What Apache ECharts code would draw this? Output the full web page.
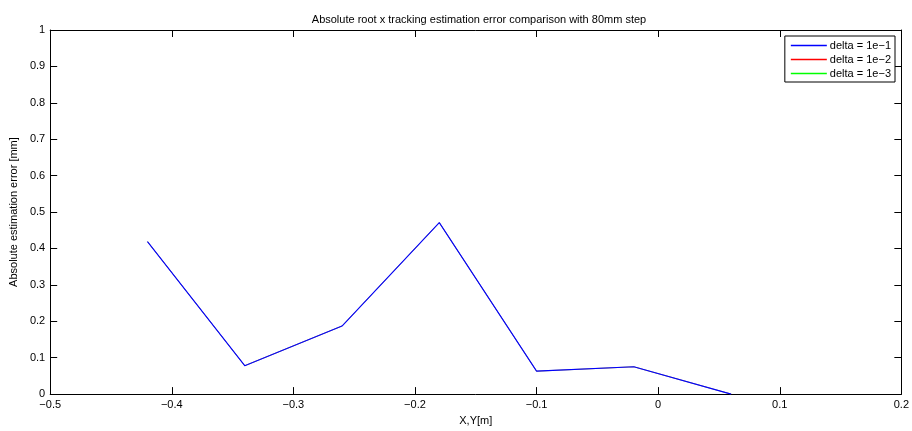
<!DOCTYPE html>
<html>
<head>
<meta charset="utf-8">
<script src="https://cdn.jsdelivr.net/npm/echarts@6/dist/echarts.min.js"></script>
<style>html,body{margin:0;padding:0;background:#fff}#c{width:912px;height:431px}</style>
</head>
<body>
<div id="c"></div>
<script>
var xValues = [-0.42, -0.34, -0.26, -0.18, -0.10, -0.02, 0.06];
var delta1 = [0.419, 0.078, 0.187, 0.471, 0.063, 0.075, 0.0];
var delta2 = [0.419, 0.078, 0.187, 0.471, 0.063, 0.075, 0.0];
var delta3 = [0.419, 0.078, 0.187, 0.471, 0.063, 0.075, 0.0];
var seriesNames = ['delta = 1e\u22121', 'delta = 1e\u22122', 'delta = 1e\u22123'];
var seriesColors = ['#0000ff', '#ff0000', '#00ff00'];

function pairs(ys){ return xValues.map(function(x,i){ return [x, ys[i]]; }); }
function fmt(v){
  var s = (Math.round(v*10)/10).toString();
  return s.replace('-', '\u2212');
}
var font = 'Liberation Sans, Arial, Helvetica, sans-serif';
function axisCommon(){
  return {
    axisLine: {show: true, onZero: false, lineStyle: {color: '#000', width: 1}},
    axisTick: {show: true, inside: true, length: 7, lineStyle: {color: '#000', width: 1}},
    splitLine: {show: false}
  };
}
var chart = echarts.init(document.getElementById('c'));
chart.setOption({
  animation: false,
  backgroundColor: '#fff',
  title: {
    text: 'Absolute root x tracking estimation error comparison with 80mm step',
    left: 474, top: 9, textAlign: 'center',
    textStyle: {fontFamily: font, fontSize: 11, fontWeight: 'normal', color: '#000'}
  },
  grid: {left: 48, right: 10, top: 30, bottom: 34, containLabel: false},
  legend: {
    orient: 'vertical', right: 17, top: 36,
    itemWidth: 36, itemHeight: 1.5, itemGap: 3,
    padding: [4, 4, 3, 6],
    borderColor: '#000', borderWidth: 1, backgroundColor: '#fff',
    icon: 'rect',
    textStyle: {fontFamily: font, fontSize: 11, color: '#000', padding: [0,0,0,-2]},
    data: seriesNames.slice()
  },
  xAxis: [
    Object.assign({
      type: 'value', min: -0.5, max: 0.2, interval: 0.1, position: 'bottom',
      name: 'X,Y[m]', nameLocation: 'middle', nameGap: 20,
      nameTextStyle: {fontFamily: font, fontSize: 11, color: '#000'},
      axisLabel: {fontFamily: font, fontSize: 11, color: '#000', margin: 5, formatter: fmt}
    }, axisCommon()),
    Object.assign({
      type: 'value', min: -0.5, max: 0.2, interval: 0.1, position: 'top',
      axisLabel: {show: false}
    }, axisCommon())
  ],
  yAxis: [
    Object.assign({
      type: 'value', min: 0, max: 1, interval: 0.1, position: 'left',
      name: 'Absolute estimation error [mm]', nameLocation: 'middle', nameGap: 29,
      nameTextStyle: {fontFamily: font, fontSize: 11, color: '#000'},
      axisLabel: {fontFamily: font, fontSize: 11, color: '#000', margin: 5, formatter: fmt}
    }, axisCommon()),
    Object.assign({
      type: 'value', min: 0, max: 1, interval: 0.1, position: 'right',
      axisLabel: {show: false}
    }, axisCommon())
  ],
  series: [
    {name: seriesNames[2], type: 'line', data: pairs(delta3), showSymbol: false, color: seriesColors[2], lineStyle: {width: 0.4, color: seriesColors[2]}, z: 1},
    {name: seriesNames[1], type: 'line', data: pairs(delta2), showSymbol: false, color: seriesColors[1], lineStyle: {width: 0.4, color: seriesColors[1]}, z: 2},
    {name: seriesNames[0], type: 'line', data: pairs(delta1), showSymbol: false, color: seriesColors[0], lineStyle: {width: 1.1, color: seriesColors[0]}, z: 3}
  ]
});
</script>
</body>
</html>
